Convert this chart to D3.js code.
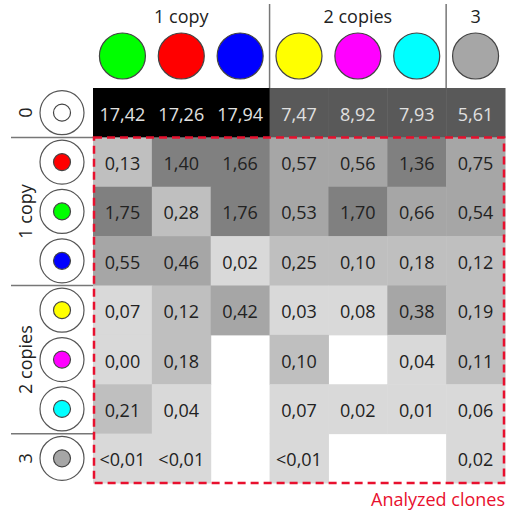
<!DOCTYPE html>
<html><head><meta charset="utf-8">
<script src="https://cdn.jsdelivr.net/npm/d3@7"></script>
<style>body{margin:0;background:#fff}svg{display:block}text{font-family:"Open Sans","Noto Sans",sans-serif}</style>
</head><body><div id="chart"></div>
<script>
const colColors = ["#00ff00","#ff0000","#0000ff","#ffff00","#ff00ff","#00ffff","#a6a6a6"];
const rowColors = ["#ffffff","#ff0000","#00ff00","#0000ff","#ffff00","#ff00ff","#00ffff","#a6a6a6"];
const colGroups = [{label:"1 copy", from:0, to:2},{label:"2 copies", from:3, to:5},{label:"3", from:6, to:6}];
const rowGroups = [{label:"0", from:0, to:0},{label:"1 copy", from:1, to:3},{label:"2 copies", from:4, to:6},{label:"3", from:7, to:7}];
const row0 = ["17,42","17,26","17,94","7,47","8,92","7,93","5,61"];
const row1 = ["0,13","1,40","1,66","0,57","0,56","1,36","0,75"];
const row2 = ["1,75","0,28","1,76","0,53","1,70","0,66","0,54"];
const row3 = ["0,55","0,46","0,02","0,25","0,10","0,18","0,12"];
const row4 = ["0,07","0,12","0,42","0,03","0,08","0,38","0,19"];
const row5 = ["0,00","0,18",null,"0,10",null,"0,04","0,11"];
const row6 = ["0,21","0,04",null,"0,07","0,02","0,01","0,06"];
const row7 = ["<0,01","<0,01",null,"<0,01",null,null,"0,02"];
const rowsData = [row0,row1,row2,row3,row4,row5,row6,row7];
const boxLabel = "Analyzed clones";

const W=508,H=513;
const svg=d3.select("#chart").append("svg").attr("width",W).attr("height",H);
const x=d3.scaleBand().domain(d3.range(7)).range([93,505]);
const y=d3.scaleBand().domain(d3.range(8)).range([88,483]);
const fill=d3.scaleThreshold().domain([0.1,0.3,1,5,10]).range(["#d9d9d9","#bfbfbf","#a6a6a6","#808080","#595959","#000000"]);
const num=s=>+s.replace("<","").replace(",",".");

const cells=[];
rowsData.forEach((r,ri)=>r.forEach((v,ci)=>{ if(v!==null) cells.push({ri,ci,v}); }));
const g=svg.append("g");
g.selectAll("rect.cell").data(cells).join("rect").attr("class","cell")
 .attr("x",d=>x(d.ci)).attr("y",d=>y(d.ri)).attr("width",x.bandwidth()+0.5).attr("height",y.bandwidth()+0.5)
 .attr("fill",d=>fill(num(d.v)));
g.selectAll("text.val").data(cells).join("text").attr("class","val")
 .attr("x",d=>x(d.ci)+x.bandwidth()/2).attr("y",d=>y(d.ri)+y.bandwidth()/2+1)
 .attr("text-anchor","middle").attr("dominant-baseline","central")
 .attr("font-size",18).attr("fill",d=>d.ri===0?"#e0e0e0":"#222").text(d=>d.v);

// column headers
svg.selectAll("circle.ch").data(colColors).join("circle").attr("class","ch")
 .attr("cx",(d,i)=>x(i)+x.bandwidth()/2).attr("cy",56).attr("r",23)
 .attr("fill",d=>d).attr("stroke","#444").attr("stroke-width",1.2);
svg.selectAll("text.cg").data(colGroups).join("text").attr("class","cg")
 .attr("x",d=>(x(d.from)+x(d.to)+x.bandwidth())/2).attr("y",23)
 .attr("text-anchor","middle").attr("font-size",18).attr("fill","#222").text(d=>d.label);
svg.selectAll("line.cs").data(colGroups.slice(1)).join("line").attr("class","cs")
 .attr("x1",d=>x(d.from)).attr("x2",d=>x(d.from)).attr("y1",4).attr("y2",y(0))
 .attr("stroke","#777").attr("stroke-width",1.5);

// row headers
const cx=62;
svg.selectAll("line.rs").data(rowGroups.slice(1)).join("line").attr("class","rs")
 .attr("x1",11).attr("x2",x(0)).attr("y1",d=>y(d.from)).attr("y2",d=>y(d.from))
 .attr("stroke","#777").attr("stroke-width",1.5);
svg.selectAll("circle.ring").data(rowColors).join("circle").attr("class","ring")
 .attr("cx",cx).attr("cy",(d,i)=>y(i)+y.bandwidth()/2).attr("r",22)
 .attr("fill","#fff").attr("stroke","#555").attr("stroke-width",1.2);
svg.selectAll("circle.dot").data(rowColors).join("circle").attr("class","dot")
 .attr("cx",cx).attr("cy",(d,i)=>y(i)+y.bandwidth()/2).attr("r",8.5)
 .attr("fill",d=>d).attr("stroke","#444").attr("stroke-width",1.2);
svg.selectAll("text.rg").data(rowGroups).join("text").attr("class","rg")
 .attr("transform",d=>`translate(25,${(y(d.from)+y(d.to)+y.bandwidth())/2}) rotate(-90)`)
 .attr("text-anchor","middle").attr("dominant-baseline","central")
 .attr("font-size",18).attr("fill","#222").text(d=>d.label);

// analyzed box
svg.append("rect").attr("x",x(0)+1).attr("y",y(1)).attr("width",x(6)+x.bandwidth()-x(0)-2).attr("height",y(7)+y.bandwidth()-y(1))
 .attr("fill","none").attr("stroke","#e8102e").attr("stroke-width",2.5).attr("stroke-dasharray","8,5");
svg.append("text").attr("x",505).attr("y",506).attr("text-anchor","end").attr("font-size",18)
 .attr("fill","#e8102e").text(boxLabel);
</script></body></html>
